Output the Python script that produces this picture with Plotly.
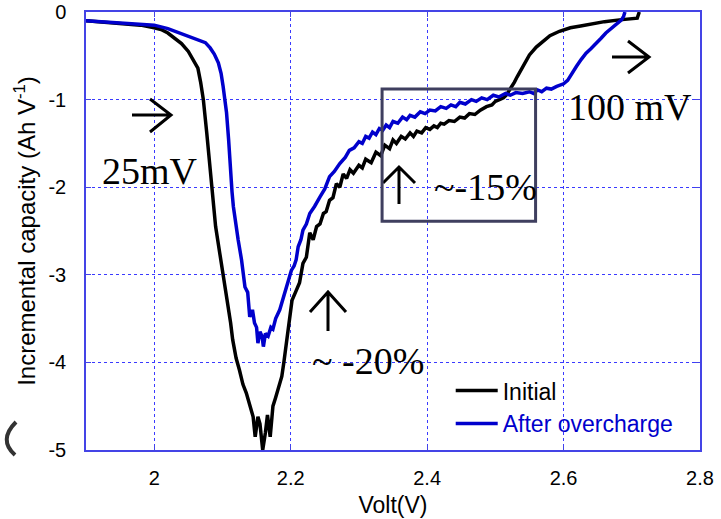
import plotly.graph_objects as go

# ---------------- data ----------------
volt_initial = [1.900, 1.920, 1.940, 1.960, 1.980, 2.000, 2.010, 2.020, 2.030, 2.040,
                2.050, 2.058, 2.064, 2.068, 2.072, 2.077, 2.084, 2.090, 2.096, 2.102,
                2.108, 2.112, 2.115, 2.120, 2.125, 2.130, 2.135, 2.140, 2.145, 2.148,
                2.152, 2.155, 2.159, 2.163, 2.166, 2.170, 2.174, 2.178, 2.182, 2.187,
                2.190, 2.194, 2.198, 2.202, 2.207, 2.213, 2.218, 2.223, 2.228, 2.233,
                2.238, 2.243, 2.248, 2.252, 2.257, 2.262, 2.267, 2.272, 2.277, 2.282,
                2.287, 2.292, 2.300, 2.305, 2.310, 2.318, 2.325, 2.332, 2.338, 2.345,
                2.350, 2.355, 2.362, 2.368, 2.375, 2.380, 2.385, 2.392, 2.398, 2.404,
                2.410, 2.415, 2.420, 2.425, 2.432, 2.440, 2.448, 2.455, 2.462, 2.470,
                2.478, 2.487, 2.495, 2.500, 2.506, 2.512, 2.516, 2.520, 2.524, 2.528,
                2.532, 2.540, 2.550, 2.560, 2.569, 2.580, 2.594, 2.610, 2.625, 2.643,
                2.660, 2.682, 2.700, 2.708, 2.711]
cap_initial = [-0.10, -0.11, -0.12, -0.13, -0.15, -0.18, -0.20, -0.24, -0.30, -0.36,
               -0.45, -0.55, -0.64, -0.80, -1.00, -1.38, -2.00, -2.45, -2.75, -3.05,
               -3.32, -3.55, -3.74, -3.95, -4.09, -4.25, -4.35, -4.48, -4.62, -4.85,
               -4.62, -4.70, -5.00, -4.80, -4.60, -4.85, -4.50, -4.40, -4.30, -4.16,
               -4.00, -3.78, -3.50, -3.29, -3.20, -3.09, -2.87, -2.80, -2.52, -2.60,
               -2.45, -2.42, -2.30, -2.28, -2.15, -2.12, -1.96, -2.00, -1.85, -1.90,
               -1.80, -1.84, -1.75, -1.78, -1.68, -1.72, -1.60, -1.64, -1.52, -1.56,
               -1.46, -1.50, -1.42, -1.45, -1.38, -1.42, -1.36, -1.38, -1.32, -1.34,
               -1.30, -1.32, -1.27, -1.28, -1.24, -1.25, -1.20, -1.21, -1.16, -1.17,
               -1.12, -1.08, -1.06, -1.02, -1.00, -0.98, -0.95, -0.90, -0.86, -0.80,
               -0.74, -0.62, -0.49, -0.40, -0.34, -0.27, -0.22, -0.18, -0.16, -0.13,
               -0.11, -0.09, -0.08, -0.07, 0.00]

volt_after = [1.900, 1.920, 1.940, 1.960, 1.980, 2.000, 2.020, 2.038, 2.055, 2.067,
              2.075, 2.082, 2.088, 2.094, 2.098, 2.101, 2.104, 2.106, 2.109, 2.111,
              2.114, 2.116, 2.120, 2.123, 2.128, 2.133, 2.137, 2.140, 2.144, 2.147,
              2.150, 2.152, 2.155, 2.158, 2.160, 2.163, 2.167, 2.171, 2.174, 2.178,
              2.184, 2.190, 2.194, 2.198, 2.201, 2.205, 2.208, 2.211, 2.215, 2.218,
              2.223, 2.228, 2.235, 2.243, 2.250, 2.257, 2.264, 2.272, 2.280, 2.286,
              2.293, 2.300, 2.305, 2.310, 2.315, 2.320, 2.325, 2.330, 2.335, 2.340,
              2.345, 2.350, 2.357, 2.364, 2.370, 2.375, 2.382, 2.390, 2.397, 2.404,
              2.412, 2.420, 2.428, 2.435, 2.442, 2.448, 2.456, 2.465, 2.472, 2.480,
              2.488, 2.497, 2.505, 2.515, 2.522, 2.530, 2.540, 2.550, 2.556, 2.562,
              2.568, 2.575, 2.582, 2.590, 2.600, 2.606, 2.612, 2.619, 2.626, 2.633,
              2.640, 2.648, 2.655, 2.662, 2.670, 2.677, 2.685, 2.688, 2.690]
cap_after = [-0.10, -0.11, -0.12, -0.13, -0.14, -0.15, -0.19, -0.24, -0.29, -0.32,
             -0.35, -0.41, -0.48, -0.58, -0.70, -0.85, -1.00, -1.15, -1.45, -1.77,
             -2.05, -2.22, -2.45, -2.60, -2.83, -3.14, -3.20, -3.48, -3.40, -3.55,
             -3.60, -3.78, -3.65, -3.70, -3.82, -3.67, -3.70, -3.60, -3.62, -3.50,
             -3.40, -3.25, -3.14, -3.05, -2.95, -2.90, -2.83, -2.68, -2.60, -2.49,
             -2.42, -2.30, -2.22, -2.11, -2.02, -1.88, -1.82, -1.73, -1.66, -1.58,
             -1.55, -1.48, -1.50, -1.42, -1.44, -1.37, -1.40, -1.33, -1.35, -1.29,
             -1.32, -1.25, -1.27, -1.20, -1.23, -1.18, -1.20, -1.14, -1.16, -1.12,
             -1.13, -1.08, -1.10, -1.06, -1.08, -1.03, -1.05, -1.00, -1.02, -0.98,
             -1.00, -0.95, -0.97, -0.93, -0.95, -0.92, -0.93, -0.91, -0.93, -0.89,
             -0.91, -0.87, -0.88, -0.85, -0.82, -0.78, -0.70, -0.62, -0.54, -0.47,
             -0.42, -0.36, -0.30, -0.24, -0.19, -0.15, -0.09, -0.05, 0.00]

x_tickvals = [2.0, 2.2, 2.4, 2.6, 2.8]
x_ticktext = ["2", "2.2", "2.4", "2.6", "2.8"]
y_tickvals = [0, -1, -2, -3, -4, -5]
y_ticktext = ["0", "-1", "-2", "-3", "-4", "-5"]

series_names = ["Initial", "After overcharge"]
series_colors = ["#000000", "#0000cc"]

# ---------------- layout geometry ----------------
W, H = 721, 519
ML, MR, MT, MB = 86, 21, 12, 69
PW, PH = W - ML - MR, H - MT - MB


def px(x, y):
    """pixel position -> paper coordinates (for decorations only)"""
    return (x - ML) / PW, (H - MB - y) / PH


def path_px(points):
    parts = []
    for cmd, x, y in points:
        u, v = px(x, y)
        parts.append("%s%.5f,%.5f" % (cmd, u, v))
    return " ".join(parts)


# ---------------- figure ----------------
fig = go.Figure()
fig.add_trace(go.Scatter(
    x=volt_initial, y=cap_initial, mode="lines",
    name="<span style='color:%s'>%s</span>" % (series_colors[0], series_names[0]),
    line=dict(color=series_colors[0], width=3.5)))
fig.add_trace(go.Scatter(
    x=volt_after, y=cap_after, mode="lines",
    name="<span style='color:%s'>%s</span>" % (series_colors[1], series_names[1]),
    line=dict(color=series_colors[1], width=3.5)))

axis_common = dict(
    showline=True, linecolor="#4444e6", linewidth=1.5, mirror="ticks",
    ticks="inside", ticklen=5, tickcolor="#4444e6",
    showgrid=True, gridcolor="#3a3aff", gridwidth=1, griddash="dot",
    zeroline=False, automargin=False,
    tickfont=dict(family="Liberation Sans, Arial", size=20, color="black"),
)

fig.update_xaxes(range=[1.9, 2.8], tickvals=x_tickvals, ticktext=x_ticktext,
                 ticklabelstandoff=9,
                 title=dict(text="Volt(V)", standoff=9,
                            font=dict(family="Liberation Sans, Arial", size=23, color="black")),
                 **axis_common)
fig.update_yaxes(range=[-5, 0], tickvals=y_tickvals, ticktext=y_ticktext,
                 ticklabelstandoff=14,
                 title=dict(text="Incremental capacity (Ah V<sup>-1</sup>)", standoff=6,
                            font=dict(family="Liberation Sans, Arial", size=24, color="black")),
                 **axis_common)

serif = dict(family="Liberation Serif, Times New Roman", size=38, color="black")

annots = [
    dict(x=1.994, y=-1.81, text="25mV"),
    dict(x=2.697, y=-1.08, text="100 mV"),
    dict(x=2.486, y=-2.00, text="~-15%"),
    dict(x=2.314, y=-3.98, text="~ -20%"),
]
for a in annots:
    fig.add_annotation(xref="x", yref="y", showarrow=False, font=serif, **a)

# hand-drawn style arrows (decorations), given in pixel positions
arrows = [
    [("M", 132, 115), ("L", 171, 115), ("M", 150, 99), ("L", 171, 115), ("L", 150, 132)],
    [("M", 612, 57), ("L", 649, 57), ("M", 628, 41), ("L", 649, 57), ("L", 628, 73)],
    [("M", 399, 204), ("L", 399, 167), ("M", 383, 183), ("L", 399, 167), ("L", 415, 183)],
    [("M", 328, 331), ("L", 328, 292), ("M", 310, 312), ("L", 328, 292), ("L", 346, 312)],
]
for pts in arrows:
    fig.add_shape(type="path", xref="paper", yref="paper", path=path_px(pts),
                  line=dict(color="black", width=3))

# cropped artifact at the left edge
u0, v0 = px(16, 422)
uc, vc = px(-2, 440)
u1, v1 = px(15, 455)
fig.add_shape(type="path", xref="paper", yref="paper",
              path="M%.5f,%.5f Q%.5f,%.5f %.5f,%.5f" % (u0, v0, uc, vc, u1, v1),
              line=dict(color="#333333", width=4))

fig.add_shape(type="rect", xref="x", yref="y", x0=2.334, x1=2.559, y0=-0.88, y1=-2.39,
              line=dict(color="#3f3f5f", width=3))

fig.update_layout(
    width=W, height=H,
    margin=dict(l=ML, r=MR, t=MT, b=MB),
    paper_bgcolor="white", plot_bgcolor="white",
    showlegend=True,
    legend=dict(x=0.594, y=0.098, xanchor="left", yanchor="middle",
                bgcolor="rgba(0,0,0,0)", borderwidth=0,
                font=dict(family="Liberation Sans, Arial", size=23, color="black"),
                tracegroupgap=0, itemwidth=42),
)

fig.write_html("out.html")
